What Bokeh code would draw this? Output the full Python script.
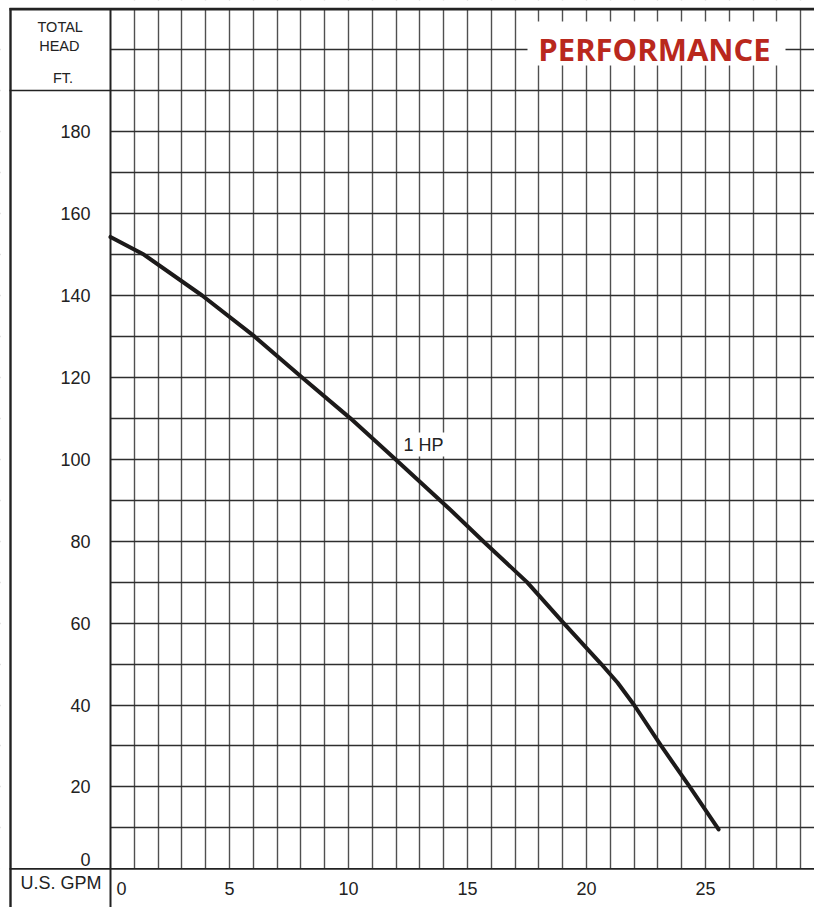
from bokeh.plotting import figure
from bokeh.models import Range1d, FixedTicker, Label, LinearAxis, Grid
from bokeh.embed import file_html
from bokeh.resources import INLINE

# ---- data ----
gpm = [0, 1.4, 3.85, 6.05, 8.05, 10.08, 11.97, 14.29, 15.66, 17.5, 19.04, 20.62, 21.3, 22.0, 23.14, 24.34, 25.55]
head = [154.3, 150, 140, 130, 120, 110, 100, 87.6, 80, 70, 60, 50, 45.5, 40, 30, 20, 9.6]

x_ticks = [0, 5, 10, 15, 20, 25]
x_tick_labels = ["0", "5", "10", "15", "20", "25"]
y_ticks = [0, 20, 40, 60, 80, 100, 120, 140, 160, 180]
y_tick_labels = ["0", "20", "40", "60", "80", "100", "120", "140", "160", "180"]
x_grid = list(range(1, 30))
y_grid = list(range(10, 210, 10))

curve_name = "1 HP"
title_text = "PERFORMANCE"
y_header = ["TOTAL", "HEAD", "FT."]
x_header = "U.S. GPM"

# ---- layout constants (page px -> data) ----
W, H = 814, 907
PXX = 23.8     # px per GPM
PXY = 4.095    # px per ft
X0, Y0 = 110, 868.3


def dx(px):
    return (px - X0) / PXX


def dy(py):
    return (Y0 - py) / PXY


FONT = "Liberation Sans"
DARK = "#222222"

p = figure(width=W, height=H,
           x_range=Range1d(dx(0), dx(W)), y_range=Range1d(dy(H), dy(0)),
           x_axis_location=None, y_axis_location=None,
           output_backend="svg", toolbar_location=None,
           min_border_left=0, min_border_right=0,
           min_border_top=0, min_border_bottom=0)
p.outline_line_color = None
p.background_fill_color = "white"
p.border_fill_color = "white"

# grid
p.add_layout(Grid(dimension=0, ticker=FixedTicker(ticks=x_grid),
                  grid_line_color="#505050", grid_line_width=1.4))
p.add_layout(Grid(dimension=1, ticker=FixedTicker(ticks=y_grid),
                  grid_line_color="#2e2e2e", grid_line_width=1.4))

# white covers outside the chart area (left panel, bottom row, above top border)
p.quad(left=[dx(-10), dx(-10), dx(-10)], right=[0, dx(W + 10), dx(W + 10)],
       bottom=[dy(H + 10), dy(H + 10), dy(8.6)], top=[dy(-10), 0, dy(-10)],
       fill_color="white", line_color=None)
# white box behind the title
p.quad(left=[dx(527)], right=[dx(785)], bottom=[dy(65)], top=[dy(21)],
       fill_color="white", line_color=None)

# panel borders / dividers
seg = [  # (x0, y0, x1, y1) page px, width
    ((10, 7.5, 10, H + 5), 2.4),      # left outer border
    ((9, 8.6, W + 5, 8.6), 2.7),      # top border
    ((110, 8, 110, H + 5), 2.0),      # vertical divider
    ((9, 868.3, W + 5, 868.3), 1.8),  # bottom divider
    ((9, 90, 110, 90), 1.5),          # header divider
]
for (a, b, c, d), w in seg:
    p.segment(x0=[dx(a)], y0=[dy(b)], x1=[dx(c)], y1=[dy(d)],
              line_color=DARK, line_width=w)

# curve
p.line(gpm, head, line_color="#1c1a1a", line_width=4, line_join="round", line_cap="round")

# axes at fixed locations (tick labels only)
xt = [t if t != 0 else 0.46 for t in x_ticks]
yt = [t if t != 0 else 2.2 for t in y_ticks]
xax = LinearAxis(fixed_location=0, ticker=FixedTicker(ticks=xt),
                 major_label_overrides={t: l for t, l in zip(xt, x_tick_labels)})
yax = LinearAxis(fixed_location=0, ticker=FixedTicker(ticks=yt),
                 major_label_overrides={t: l for t, l in zip(yt, y_tick_labels)})
for ax in (xax, yax):
    ax.axis_line_color = None
    ax.major_tick_line_color = None
    ax.minor_tick_line_color = None
    ax.major_tick_out = 0
    ax.major_tick_in = 0
    ax.major_label_text_font = FONT
    ax.major_label_text_font_size = "18px"
    ax.major_label_text_color = DARK
xax.major_label_standoff = 13
yax.major_label_standoff = 20
p.add_layout(xax, "below")
p.add_layout(yax, "left")

# labels
p.add_layout(Label(x=dx(654), y=dy(48), text=title_text, text_font="Open Sans",
                   text_font_style="bold", text_font_size="31px", text_color="#b9281d",
                   text_align="center", text_baseline="middle"))
p.add_layout(Label(x=dx(423), y=dy(444), text=curve_name, text_font=FONT,
                   text_font_size="18px", text_color=DARK, text_align="center",
                   text_baseline="middle", background_fill_color="white", padding=2))
for txt, px, py in zip(y_header, [59.7, 58.8, 62.5], [26.5, 45.5, 77]):
    p.add_layout(Label(x=dx(px), y=dy(py), text=txt, text_font=FONT,
                       text_font_size="14.5px", text_color=DARK, text_align="center",
                       text_baseline="middle"))
p.add_layout(Label(x=dx(101), y=dy(882), text=x_header, text_font=FONT,
                   text_font_size="18px", text_color=DARK, text_align="right",
                   text_baseline="middle"))

open("out.html", "w").write(file_html(p, INLINE))
